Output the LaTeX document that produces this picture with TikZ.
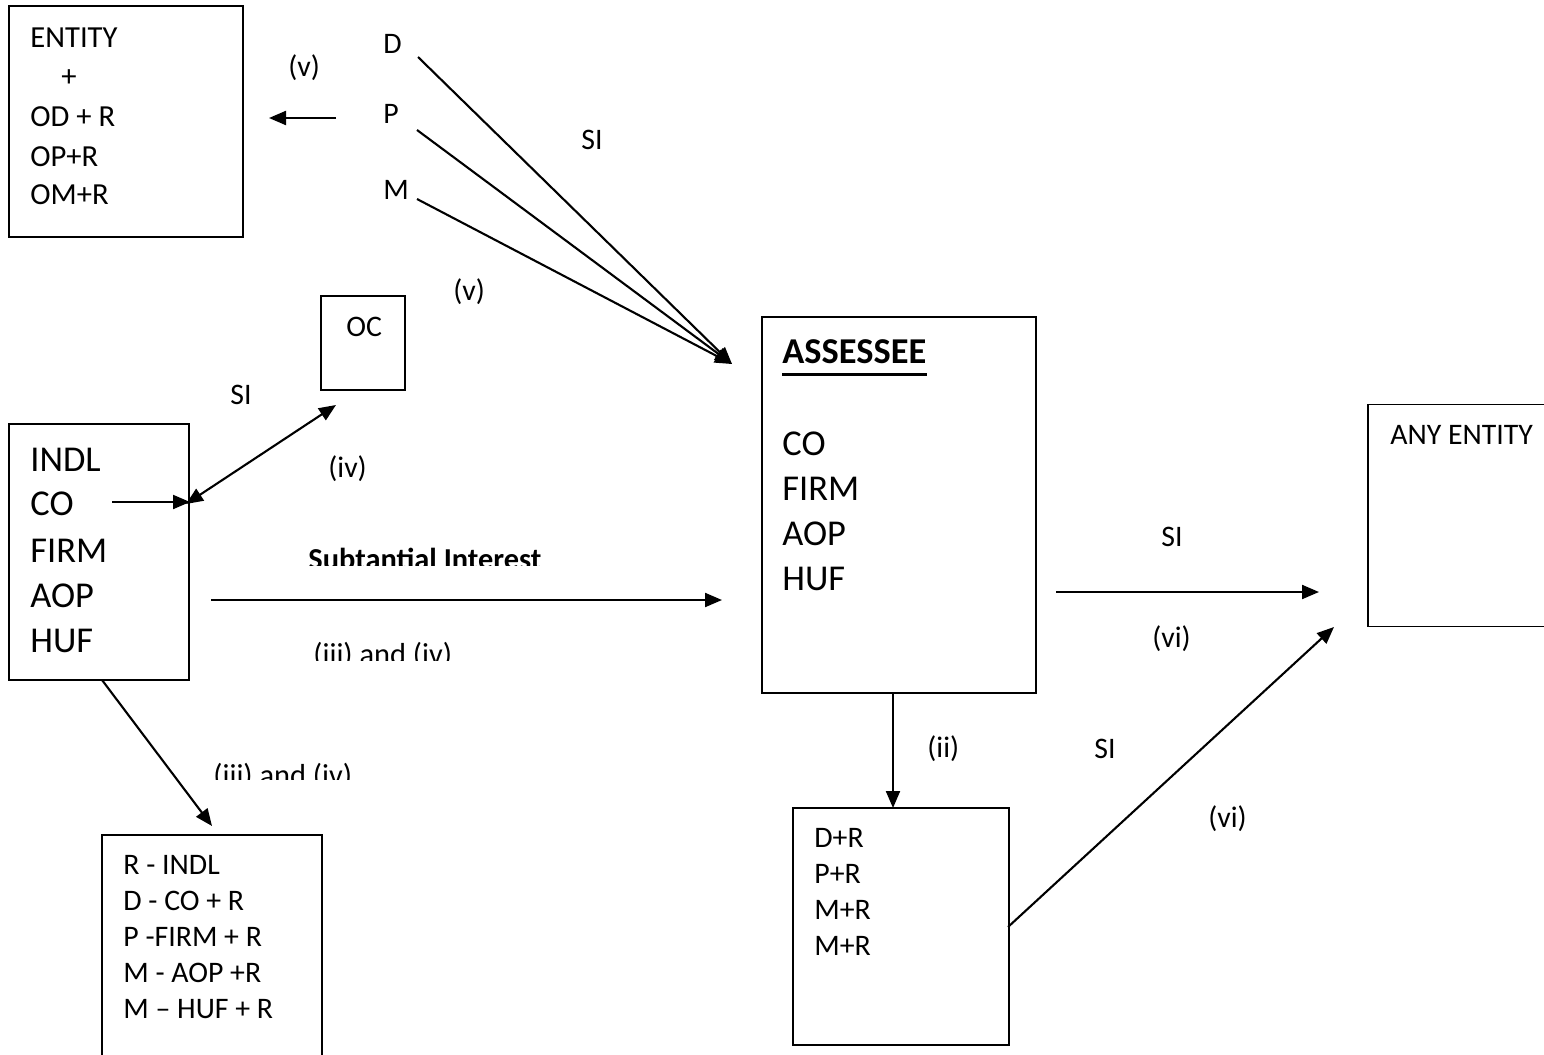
\documentclass[tikz,border=0pt]{standalone}
\usepackage{fontspec}
\setmainfont{Carlito}
\usetikzlibrary{arrows.meta}
\begin{document}
\begin{tikzpicture}[x=0.5pt,y=-0.5pt,
  box/.style={draw,line width=0.9pt,inner sep=0pt},
  sm/.style={anchor=base west,inner sep=0pt,font=\fontsize{14.9pt}{19pt}\selectfont},
  lg/.style={anchor=base west,inner sep=0pt,font=\fontsize{18.2pt}{22pt}\selectfont},
  conn/.style={line width=1.05pt,-{Triangle[length=8.5pt,width=7pt]}},
  dconn/.style={line width=1.05pt,{Triangle[length=8.5pt,width=7pt]}-{Triangle[length=8.5pt,width=7pt]}}]
\clip (0,0) rectangle (1544,1055);
% boxes
\node[box,minimum width=117pt,minimum height=115.5pt] (ent) at (126,121.5) {};
\node[box,minimum width=42pt,minimum height=47pt] (oc) at (363,343) {};
\node[box,minimum width=90pt,minimum height=128pt] (indl) at (99,552) {};
\node[box,minimum width=110pt,minimum height=130pt] (rb) at (212,965) {};
\node[box,minimum width=137pt,minimum height=188pt] (ass) at (899,505) {};
\node[box,minimum width=100pt,minimum height=111pt] (any) at (1468,515.5) {};
\node[box,minimum width=108pt,minimum height=118.5pt] (dr) at (901,926.5) {};
% entity box text
\node[sm,font=\fontsize{15.3pt}{19pt}\selectfont] (e1) at (30,47) {ENTITY};
\node[sm,font=\fontsize{15.3pt}{19pt}\selectfont] (e2) at (61,86) {+};
\node[sm,font=\fontsize{15.3pt}{19pt}\selectfont] (e3) at (30,126) {OD + R};
\node[sm,font=\fontsize{15.3pt}{19pt}\selectfont] (e4) at (30,166) {OP+R};
\node[sm,font=\fontsize{15.3pt}{19pt}\selectfont] (e5) at (30,204) {OM+R};
% D P M
\node[sm] (lD) at (383,53) {D};
\node[sm] (lP) at (383,123) {P};
\node[sm] (lM) at (383,199) {M};
\node[sm] (v1) at (288,76) {(v)};
\node[sm] (si1) at (581,149) {SI};
\node[sm] (v2) at (453,300) {(v)};
\node[sm] (ocl) at (346,336) {OC};
\node[sm] (si2) at (230,404) {SI};
\node[sm] (iv1) at (328,477) {(iv)};
% INDL box text
\node[lg] (i1) at (30,471) {INDL};
\node[lg] (i2) at (30,515) {CO};
\node[lg] (i3) at (30,562) {FIRM};
\node[lg] (i4) at (30,607) {AOP};
\node[lg] (i5) at (30,652) {HUF};
% clipped labels
\begin{scope}
\clip (290,530) rectangle (560,565);
\node[sm,font=\fontsize{15.2pt}{19pt}\selectfont\bfseries] (subi) at (308,569) {Subtantial Interest};
\end{scope}
\begin{scope}
\clip (300,620) rectangle (480,660);
\node[sm,font=\fontsize{15.2pt}{19pt}\selectfont] (iii1) at (313,664) {(iii) and (iv)};
\end{scope}
\begin{scope}
\clip (200,740) rectangle (380,779);
\node[sm,font=\fontsize{15.2pt}{19pt}\selectfont] (iii2) at (213,785) {(iii) and (iv)};
\end{scope}
% bottom-left box text
\node[sm] (r1) at (123,874) {R - INDL};
\node[sm] (r2) at (123,910) {D - CO + R};
\node[sm] (r3) at (123,946) {P -FIRM + R};
\node[sm] (r4) at (123,982) {M - AOP +R};
\node[sm] (r5) at (123,1018) {M – HUF + R};
% assessee text
\node[lg,font=\fontsize{18.2pt}{22pt}\selectfont\bfseries] (a0) at (782,363) {ASSESSEE};
\draw[line width=1.5pt] ([yshift=-5.5pt]a0.base west) -- ([yshift=-5.5pt]a0.base east);
\node[lg] (a1) at (782,455) {CO};
\node[lg] (a2) at (782,500) {FIRM};
\node[lg] (a3) at (782,545) {AOP};
\node[lg] (a4) at (782,590) {HUF};
% right side
\node[sm] (anyt) at (1390,444) {ANY ENTITY};
\node[sm] (si3) at (1161,546) {SI};
\node[sm] (vi1) at (1152,647) {(vi)};
\node[sm] (ii) at (927,757) {(ii)};
\node[sm] (si4) at (1094,758) {SI};
\node[sm] (vi2) at (1208,827) {(vi)};
% D+R box text
\node[sm] (d1) at (814,847) {D+R};
\node[sm] (d2) at (814,883) {P+R};
\node[sm] (d3) at (814,919) {M+R};
\node[sm] (d4) at (814,955) {M+R};
% connector coordinates
\coordinate (pS) at (336,118);
\coordinate (pE) at (269,118);
\coordinate (dS) at (418,57);
\coordinate (pS2) at (417,130);
\coordinate (mS) at (417,199);
\coordinate (conv) at (732,364);
\coordinate (coS) at (112,502);
\coordinate (coE) at (190,502);
\coordinate (ocS) at (186,504);
\coordinate (ocE) at (336,405);
\coordinate (siS) at (211,600);
\coordinate (siE) at (722,600);
\coordinate (inS) at (102,680);
\coordinate (inE) at (212,826);
\coordinate (asS) at (893,693);
\coordinate (asE) at (893,808);
\coordinate (rtS) at (1056,592);
\coordinate (rtE) at (1319,592);
\coordinate (drS) at (1008,927);
\coordinate (drE) at (1334,627);
% connectors
\draw[conn] (pS) -- (pE);
\draw[conn] (dS) -- (conv);
\draw[conn] (pS2) -- (conv);
\draw[conn] (mS) -- (conv);
\draw[conn] (coS) -- (coE);
\draw[dconn] (ocS) -- (ocE);
\draw[conn] (siS) -- (siE);
\draw[conn] (inS) -- (inE);
\draw[conn] (asS) -- (asE);
\draw[conn] (rtS) -- (rtE);
\draw[conn] (drS) -- (drE);
\end{tikzpicture}
\end{document}
